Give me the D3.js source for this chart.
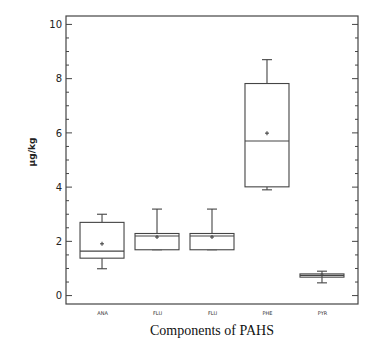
<!DOCTYPE html>
<html><head><meta charset="utf-8">
<script src="https://cdn.jsdelivr.net/npm/d3@7"></script>
<style>body{margin:0;background:#fff}svg{display:block}</style>
</head><body>
<svg id="c" width="380" height="345"></svg>
<script>
const categories = ["ANA","FLU","FLU","PHE","PYR"];
const whiskerLow = [0.99, 1.69, 1.69, 3.90, 0.47];
const q1 = [1.38, 1.69, 1.69, 4.01, 0.68];
const median = [1.64, 2.20, 2.20, 5.70, 0.745];
const q3 = [2.70, 2.29, 2.29, 7.82, 0.80];
const whiskerHigh = [3.00, 3.19, 3.19, 8.70, 0.90];
const means = [1.91, 2.16, 2.16, 5.99, 0.75];
const yTicks = [0, 2, 4, 6, 8, 10];

const svg = d3.select("#c");
const L = 66, R = 358, T = 16, B = 304;
const stroke = "#444";
const x = d3.scalePoint().domain(d3.range(categories.length)).range([L, R]).padding(0.655);
const y = d3.scaleLinear().domain([-0.31, 10.31]).range([B, T]);

svg.append("rect").attr("x", L).attr("y", T).attr("width", R - L).attr("height", B - T)
  .attr("fill", "none").attr("stroke", stroke).attr("stroke-width", 1.2);

const minor = d3.range(0, 10.01, 0.5).filter(v => !yTicks.includes(v));
function ticks(g, side) {
  const sgn = side === "left" ? 1 : -1, x0 = side === "left" ? L : R;
  g.selectAll("line.major").data(yTicks).join("line").attr("class", "major")
    .attr("x1", x0).attr("x2", x0 + sgn * 6).attr("y1", d => y(d)).attr("y2", d => y(d))
    .attr("stroke", stroke);
  g.selectAll("line.minor").data(minor).join("line").attr("class", "minor")
    .attr("x1", x0).attr("x2", x0 + sgn * 3).attr("y1", d => y(d)).attr("y2", d => y(d))
    .attr("stroke", stroke);
}
ticks(svg.append("g"), "left");
ticks(svg.append("g"), "right");
const gL = svg.append("g").attr("transform", `translate(${L},0)`);
gL.call(d3.axisLeft(y).tickValues(yTicks).tickSize(0).tickPadding(4))
  .call(g => g.select(".domain").remove())
  .call(g => g.selectAll("text").attr("font-family", "DejaVu Sans, sans-serif")
    .attr("font-size", 10).attr("fill", "#222"));

const gB = svg.append("g").attr("transform", `translate(0,${B})`);
gB.call(d3.axisBottom(x).tickSize(0).tickPadding(7).tickFormat(i => categories[i]))
  .call(g => g.select(".domain").remove())
  .call(g => g.selectAll("text").attr("font-family", "DejaVu Sans, sans-serif")
    .attr("font-size", 5).attr("fill", "#333"));

const bw = 44, cw = 10;
const boxes = svg.append("g").selectAll("g").data(categories).join("g");
boxes.each(function(c, i) {
  const g = d3.select(this), cx = x(i);
  const ln = (x1, y1, x2, y2) => g.append("line").attr("x1", x1).attr("y1", y1).attr("x2", x2).attr("y2", y2)
    .attr("stroke", stroke).attr("stroke-width", 1.1);
  ln(cx, y(q3[i]), cx, y(whiskerHigh[i]));
  ln(cx - cw / 2, y(whiskerHigh[i]), cx + cw / 2, y(whiskerHigh[i]));
  ln(cx, y(q1[i]), cx, y(whiskerLow[i]));
  ln(cx - cw / 2, y(whiskerLow[i]), cx + cw / 2, y(whiskerLow[i]));
  g.append("rect").attr("x", cx - bw / 2).attr("y", y(q3[i])).attr("width", bw)
    .attr("height", y(q1[i]) - y(q3[i])).attr("fill", "#fff").attr("stroke", stroke).attr("stroke-width", 1.1);
  ln(cx - bw / 2, y(median[i]), cx + bw / 2, y(median[i]));
  const my = y(means[i]);
  ln(cx - 2, my, cx + 2, my);
  ln(cx, my - 2, cx, my + 2);
});

svg.append("text").attr("x", 212).attr("y", 335).attr("text-anchor", "middle")
  .attr("font-family", "Liberation Serif, serif").attr("font-size", 14).attr("fill", "#111")
  .text("Components of PAHS");
svg.append("text").attr("transform", "translate(35,152) rotate(-90)").attr("text-anchor", "middle")
  .attr("font-family", "DejaVu Sans, sans-serif").attr("font-size", 9).attr("font-weight", "bold")
  .attr("fill", "#222").text("μg/kg");
</script>
</body></html>
